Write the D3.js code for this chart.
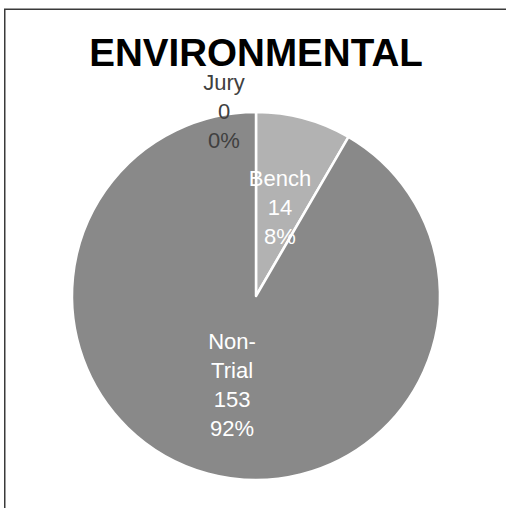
<!DOCTYPE html>
<html>
<head>
<meta charset="utf-8">
<script src="https://cdn.jsdelivr.net/npm/d3@7"></script>
<style>
  html, body { margin: 0; padding: 0; background: #fff; }
  svg { display: block; }
</style>
</head>
<body>
<svg id="chart" width="506" height="508"></svg>
<script>
const title = "ENVIRONMENTAL";
const categories = ["Jury", "Bench", "Non-Trial"];
const labelLines = [["Jury"], ["Bench"], ["Non-", "Trial"]];
const values = [0, 14, 153];
const colors = ["#898989", "#b2b2b2", "#898989"];

const svg = d3.select("#chart");
const W = 506, H = 508;
svg.append("rect").attr("x", 0).attr("y", 0).attr("width", W).attr("height", H).attr("fill", "#fff");

// frame (extends beyond window on right/bottom)
svg.append("rect")
  .attr("x", 4.75).attr("y", 9.25)
  .attr("width", W + 10).attr("height", H + 10)
  .attr("fill", "none").attr("stroke", "#3a3a3a").attr("stroke-width", 1.5);

svg.append("text")
  .attr("x", 256).attr("y", 66)
  .attr("text-anchor", "middle")
  .attr("font-family", "Liberation Sans, Arial, sans-serif")
  .attr("font-weight", "bold")
  .attr("font-size", 38.6)
  .attr("fill", "#000")
  .text(title);

const cx = 256, cy = 296, r = 184;
const total = d3.sum(values);
const pie = d3.pie().sort(null).value(d => d)(values);
const arc = d3.arc().innerRadius(0).outerRadius(r);
const labelArc = d3.arc().innerRadius(r * 0.5).outerRadius(r * 0.5);

const g = svg.append("g").attr("transform", `translate(${cx},${cy})`);

g.selectAll("path.slice")
  .data(pie)
  .join("path")
  .attr("class", "slice")
  .attr("d", arc)
  .attr("fill", (d, i) => colors[i])
  .attr("stroke", "#fff")
  .attr("stroke-width", 2.5)
  .attr("stroke-linejoin", "round");

const fmtPct = v => Math.round(v / total * 100) + "%";
const lineH = 29;

pie.forEach((d, i) => {
  const lines = labelLines[i].concat([String(values[i]), fmtPct(values[i])]);
  let x, y, fill;
  if (values[i] === 0) {
    // zero slice: label placed outside, just above the pie top at the slice's angle
    const a = d.startAngle;
    x = (r + 4) * Math.sin(a) - 32;
    y = -(r + 4) * Math.cos(a) + 9 - lineH * 0 ;
    y = -r - 1;
    fill = "#404040";
  } else {
    [x, y] = labelArc.centroid(d);
    fill = "#ffffff";
  }
  const n = lines.length;
  const t = g.append("text")
    .attr("text-anchor", "middle")
    .attr("font-family", "Liberation Sans, Arial, sans-serif")
    .attr("font-size", 22)
    .attr("fill", fill);
  lines.forEach((s, k) => {
    t.append("tspan")
      .attr("x", x)
      .attr("y", y + 8 + (k - (n - 1) / 2) * lineH)
      .text(s);
  });
});
</script>
</body>
</html>
